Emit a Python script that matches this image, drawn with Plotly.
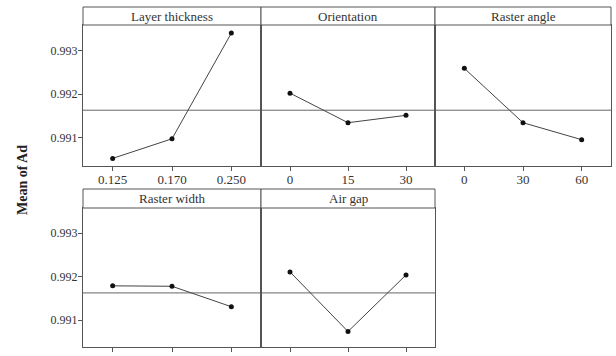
import numpy as np
import plotly.graph_objects as go

W, H = 616, 356

# ---- data ----
factors = ["Layer thickness", "Orientation", "Raster angle", "Raster width", "Air gap"]
lt_levels = ["0.125", "0.170", "0.250"]
or_levels = ["0", "15", "30"]
ra_levels = ["0", "30", "60"]
rw_levels = ["0.4064", "0.4564", "0.5064"]
ag_levels = ["0", "0.004", "0.008"]

lt_means = [0.99052, 0.99097, 0.99340]
or_means = [0.99202, 0.99134, 0.99151]
ra_means = [0.99259, 0.99134, 0.99095]
rw_means = [0.99179, 0.99178, 0.99131]
ag_means = [0.99211, 0.99074, 0.99204]

yticks = [0.991, 0.992, 0.993]

levels = [lt_levels, or_levels, ra_levels, rw_levels, ag_levels]
means = [lt_means, or_means, ra_means, rw_means, ag_means]
grand_mean = float(np.mean(np.concatenate([lt_means, or_means, ra_means, rw_means, ag_means])))

# ---- layout geometry (pixels) ----
cols = [(83, 261), (261, 435), (435, 611)]
rows = [dict(strip=(7, 25), plot=(25, 166), yr=(0.990345, 0.993586)),
        dict(strip=(189, 208), plot=(208, 347), yr=(0.990384, 0.993579))]
panel_pos = [(0, 0), (0, 1), (0, 2), (1, 0), (1, 1)]

FONT = "Liberation Serif"
BORDER = "#555555"

fig = go.Figure()
shapes = []
annotations = []

for i, (r, c) in enumerate(panel_pos):
    n = i + 1
    xs = "" if n == 1 else str(n)
    x0, x1 = cols[c]
    row = rows[r]
    ptop, pbot = row["plot"]
    stop, sbot = row["strip"]
    xdom = [x0 / W, x1 / W]
    ydom = [1 - pbot / H, 1 - ptop / H]

    fig.add_trace(go.Scatter(
        x=levels[i], y=means[i], mode="lines+markers",
        xaxis="x" + xs, yaxis="y" + xs,
        line=dict(color="#444444", width=1),
        marker=dict(color="#111111", size=5),
        showlegend=False, hoverinfo="x+y"))

    fig.update_layout(**{
        "xaxis" + xs: dict(
            domain=xdom, anchor="y" + xs, type="category",
            categoryorder="array", categoryarray=levels[i],
            range=[-0.5, 2.5], showgrid=False, zeroline=False,
            showline=True, mirror=True, linecolor=BORDER, linewidth=1,
            ticks="outside", ticklen=4, tickcolor=BORDER,
            ticklabelstandoff=-3,
            showticklabels=(r == 0),
            tickfont=dict(family=FONT, size=13, color="#333333")),
        "yaxis" + xs: dict(
            domain=ydom, anchor="x" + xs, range=list(row["yr"]),
            showgrid=False, zeroline=False,
            showline=True, mirror=True, linecolor=BORDER, linewidth=1,
            tickvals=yticks, tickformat=".3f",
            ticks="outside" if c == 0 else "", ticklen=4, tickcolor=BORDER,
            ticklabelstandoff=-2,
            showticklabels=(c == 0),
            tickfont=dict(family=FONT, size=12, color="#333333")),
    })

    # grand mean reference line
    shapes.append(dict(type="line", xref="x" + xs + " domain", yref="y" + xs,
                       x0=0, x1=1, y0=grand_mean, y1=grand_mean,
                       line=dict(color="#666666", width=1), layer="below"))
    # strip box
    shapes.append(dict(type="rect", xref="paper", yref="paper",
                       x0=x0 / W, x1=x1 / W, y0=1 - sbot / H, y1=1 - stop / H,
                       line=dict(color=BORDER, width=1), fillcolor="white"))
    annotations.append(dict(text=factors[i], xref="paper", yref="paper",
                            x=(x0 + x1) / 2 / W, y=1 - (stop + sbot) / 2 / H,
                            xanchor="center", yanchor="middle", showarrow=False,
                            font=dict(family=FONT, size=13, color="#333333")))

annotations.append(dict(text="<b>Mean of Ad</b>", xref="paper", yref="paper",
                        x=22 / W, y=1 - 180 / H, textangle=-90,
                        xanchor="center", yanchor="middle", showarrow=False,
                        font=dict(family=FONT, size=14, color="#222222")))

fig.update_layout(width=W, height=H, margin=dict(l=0, r=0, t=0, b=0),
                  paper_bgcolor="white", plot_bgcolor="white",
                  shapes=shapes, annotations=annotations,
                  font=dict(family=FONT))

fig.write_html("out.html")
